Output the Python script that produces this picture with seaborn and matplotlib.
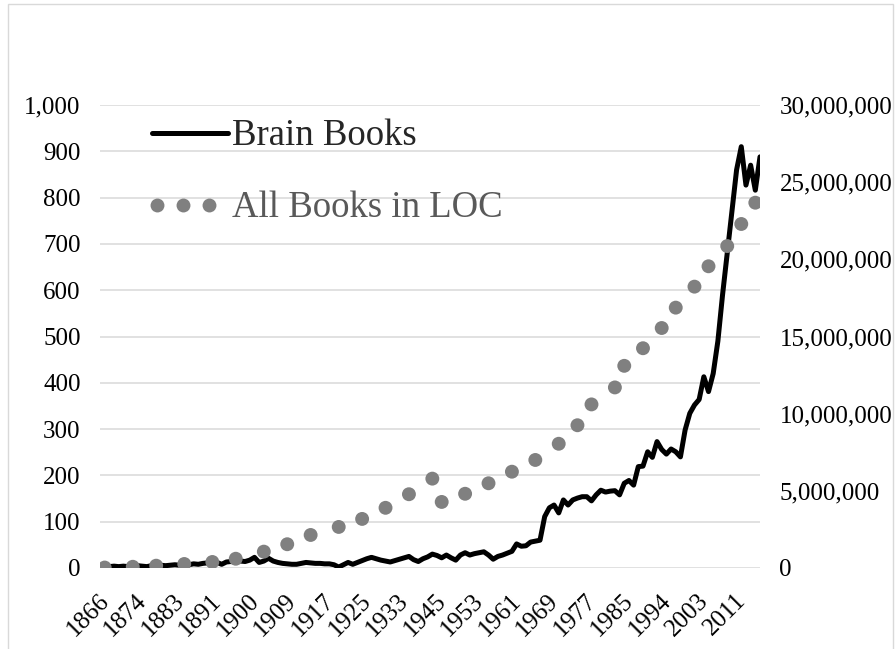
import numpy as np
import pandas as pd
import matplotlib
matplotlib.use("Agg")
import matplotlib.pyplot as plt
import seaborn as sns
from matplotlib.lines import Line2D
from matplotlib.patches import Rectangle
from matplotlib.transforms import ScaledTranslation
from matplotlib.legend_handler import HandlerLine2D

sns.set_theme(style="white")
plt.rcParams['font.family'] = ['Liberation Serif', 'DejaVu Serif']

# years on the category axis (a few years are absent in the source sheet)
missing_years = [1879, 1896, 1905, 1939, 1940, 1941, 1942, 1990, 1999]
years = [y for y in range(1866, 2017) if y not in missing_years]

# number of brain books per year (left axis)
brain_books = [
    2, 2, 3, 4, 3, 4, 3, 4, 5, 4,
    3, 5, 4, 6, 5, 6, 7, 6, 8, 7,
    9, 8, 10, 11, 9, 12, 8, 13, 14, 13,
    15, 14, 17, 23, 12, 15, 21, 15, 12, 10,
    9, 8, 8, 10, 12, 11, 10, 10, 9, 9,
    7, 2, 7, 12, 8, 12, 16, 20, 23, 20,
    17, 15, 13, 16, 19, 22, 25, 18, 14, 20,
    24, 30, 27, 22, 28, 22, 17, 28, 33, 28,
    31, 33, 35, 28, 19, 25, 28, 32, 36, 52,
    47, 48, 56, 58, 60, 111, 130, 136, 119, 147,
    136, 147, 151, 154, 154, 145, 158, 168, 164, 166,
    167, 158, 183, 189, 179, 219, 220, 251, 239, 273,
    256, 246, 257, 251, 240, 298, 334, 352, 364, 413,
    381, 420, 490, 590, 680, 770, 860, 910, 827, 870,
    816, 888,
]

# all books in the Library of Congress (right axis, millions)
loc_years = [1867, 1873, 1878, 1885, 1891, 1897, 1903, 1909, 1914, 1920,
             1925, 1930, 1935, 1944, 1946, 1951, 1956, 1961, 1966, 1971,
             1975, 1978, 1983, 1985, 1989, 1994, 1997, 2002, 2005, 2009,
             2012, 2015]
loc_millions = [0.03, 0.08, 0.15, 0.26, 0.39, 0.6, 1.06, 1.54, 2.14, 2.66,
                3.18, 3.9, 4.78, 5.79, 4.28, 4.81, 5.49, 6.24, 7.0, 8.05,
                9.25, 10.6, 11.7, 13.1, 14.24, 15.55, 16.87, 18.23, 19.55, 20.86,
                22.29, 23.67]

df = pd.DataFrame({"year": years, "brain": brain_books})
df["pos"] = np.arange(len(df))
pos_of = dict(zip(df["year"], df["pos"]))
loc_df = pd.DataFrame({"year": loc_years, "books": np.array(loc_millions) * 1e6})
loc_df["pos"] = loc_df["year"].map(pos_of)


class DotsHandler(HandlerLine2D):
    # three dots, left-packed inside the legend handle
    def get_xdata(self, legend, xdescent, ydescent, width, height, fontsize):
        xs = -xdescent + np.linspace(0.07, 0.75, 3) * width
        return xs, xs


fig = plt.figure(figsize=(8.96, 6.49), dpi=100)
ax = fig.add_axes([100 / 896, 81 / 649, 660 / 896, 463 / 649])
ax2 = ax.twinx()

sns.lineplot(data=df, x="pos", y="brain", ax=ax, color="black", linewidth=3.6)
sns.scatterplot(data=loc_df, x="pos", y="books", ax=ax2, color="#808080",
                s=100, edgecolor="none", linewidth=0)

ax.set_xlim(0, len(df) - 1)
ax.set_ylim(0, 1000)
ax2.set_ylim(0, 30e6)
ax.set_yticks(np.arange(0, 1001, 100))
ax2.set_yticks(np.arange(0, 30e6 + 1, 5e6))
ax.yaxis.set_major_formatter(plt.FuncFormatter(lambda v, _: f"{int(v):,}"))
ax2.yaxis.set_major_formatter(plt.FuncFormatter(lambda v, _: f"{int(v):,}"))

for a in (ax, ax2):
    a.tick_params(axis="both", length=0, labelsize=18, pad=14, colors="black")
    for s in a.spines.values():
        s.set_visible(False)
    a.set_xlabel("")
    a.set_ylabel("")

tick_pos = df["pos"].values[::8]
ax.set_xticks(tick_pos)
ax.set_xticklabels([str(y) for y in df["year"].values[::8]], rotation=45,
                   ha="right", va="top", rotation_mode="anchor")
ax.tick_params(axis="x", pad=15.5)
for lab in ax.get_xticklabels():
    lab.set_transform(lab.get_transform() + ScaledTranslation(-2 / 100, 0, fig.dpi_scale_trans))

ax.yaxis.grid(True, color="#d9d9d9", linewidth=1.1)
ax.xaxis.grid(False)
ax2.grid(False)

h1 = Line2D([], [], color="black", lw=3.6)
h2 = Line2D([], [], color="#808080", marker="o", markersize=10,
            linestyle="None", markeredgewidth=0)
leg = ax2.legend([h1, h2], ["Brain Books", "All Books in LOC"], loc="upper left",
                 bbox_to_anchor=(0.079, 0.97), frameon=False, fontsize=26.5,
                 handlelength=2.05, handletextpad=0.12,
                 labelspacing=1.02, borderpad=0, borderaxespad=0,
                 handler_map={h1: HandlerLine2D(numpoints=1), h2: DotsHandler(numpoints=3)})
leg.get_texts()[1].set_color("#595959")

fig.patches.append(Rectangle((8 / 896, -0.01), 885 / 896, 645 / 649 + 0.01,
                             transform=fig.transFigure, fill=False,
                             edgecolor="#d9d9d9", linewidth=1))

fig.savefig("out.png", dpi=100)
